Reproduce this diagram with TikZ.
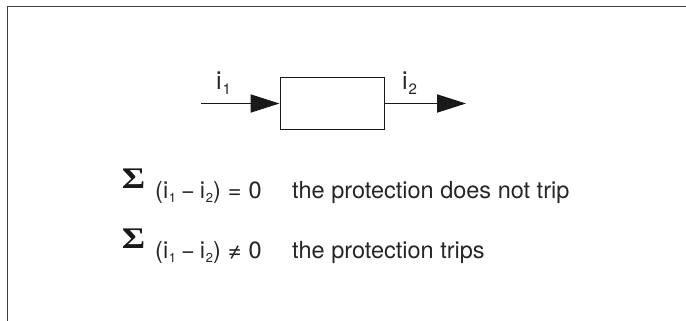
\documentclass[tikz,border=0pt]{standalone}
\usepackage{fontspec}
\setmainfont{TeX Gyre Heros}
\newfontfamily\sigfont{Liberation Serif}
\usetikzlibrary{arrows.meta}
\newcommand{\isubx}[2]{i\kern0.03em\raisebox{-0.18em}{\fontsize{#2}{#2}\selectfont #1}}
\tikzset{
  frameline/.style={line width=1.6pt, draw=black!75},
  blockbox/.style={draw=black!90, line width=1.9pt, minimum width=104pt, minimum height=52pt, inner sep=0pt},
  flow/.style={line width=1.8pt, draw=black!90, -{Triangle[length=29pt,width=18pt]}},
  lbl/.style={inner sep=0pt, anchor=base west, text=black!85, font=\fontsize{25}{25}\selectfont},
  eqtext/.style={inner sep=0pt, anchor=base west, text=black!85, font=\fontsize{23.5}{23.5}\selectfont},
  sig/.style={inner sep=0pt, anchor=base, text=black!90}
}
\newcommand{\bigsig}{\scalebox{1.05}[0.88]{\sigfont\bfseries\fontsize{34}{34}\selectfont Σ}}
\begin{document}
\begin{tikzpicture}[x=1pt,y=1pt]
\useasboundingbox (0,0) rectangle (686,-321);
% frame
\coordinate (fb) at (7.5,-321);
\coordinate (fc) at (7.5,-6.5);
\coordinate (fr) at (686,-6.5);
\draw[frameline] (fb) -- (fc) -- (fr);
% block
\node[blockbox] (blk) at (332.5,-103.5) {};
\coordinate (in) at (201,-103.5);
\coordinate (out) at (466,-103.5);
\draw[flow] (in) -- (blk.west);
\draw[flow] (blk.east) -- (out);
\node[lbl] (i1) at (216,-90) {\isubx{1}{15}};
\node[lbl] (i2) at (402,-90) {\isubx{2}{15}};
% equations
\node[sig] (s1) at (133.5,-188) {\bigsig};
\node[eqtext] (e1) at (155,-198) {(\isubx{1}{13}\hspace{5pt}−\hspace{5pt}\isubx{2}{13})\hspace{7pt}=\hspace{7pt}0};
\node[eqtext] (t1) at (292,-198) {the protection does not trip};
\node[sig] (s2) at (133.5,-248) {\bigsig};
\node[eqtext] (e2) at (155,-258) {(\isubx{1}{13}\hspace{5pt}−\hspace{5pt}\isubx{2}{13})\hspace{7pt}≠\hspace{7pt}0};
\node[eqtext] (t2) at (292,-258) {the protection trips};
\end{tikzpicture}
\end{document}
